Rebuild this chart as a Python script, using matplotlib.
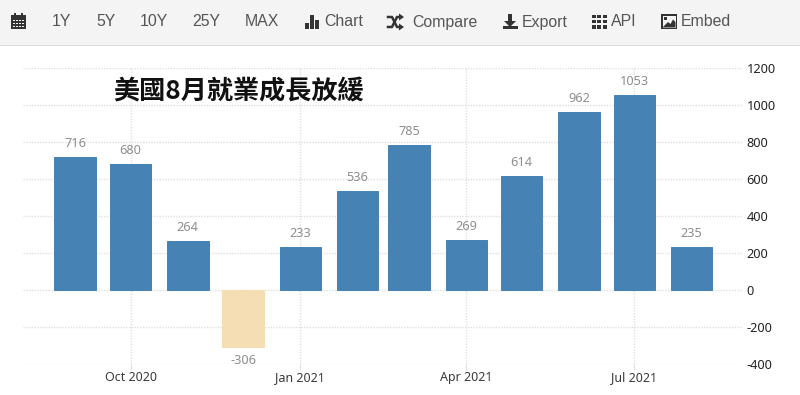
import datetime as dt
import matplotlib
matplotlib.use("Agg")
import matplotlib.pyplot as plt
import matplotlib.dates as mdates
from matplotlib.patches import Rectangle, Polygon

months = ["2020-09-01", "2020-10-01", "2020-11-01", "2020-12-01", "2021-01-01", "2021-02-01",
          "2021-03-01", "2021-04-01", "2021-05-01", "2021-06-01", "2021-07-01", "2021-08-01"]
values = [716, 680, 264, -306, 233, 536, 785, 269, 614, 962, 1053, 235]
x_ticks = ["2020-10-01", "2021-01-01", "2021-04-01", "2021-07-01"]
x_labels = ["Oct 2020", "Jan 2021", "Apr 2021", "Jul 2021"]
y_ticks = [-400, -200, 0, 200, 400, 600, 800, 1000, 1200]
title = "美國8月就業成長放緩"
toolbar = [("1Y", 52), ("5Y", 96), ("10Y", 140), ("25Y", 192), ("MAX", 245), ("Chart", 324),
           ("Compare", 412), ("Export", 522), ("API", 611), ("Embed", 681)]

BLUE, SAND = "#4682b4", "#f5deb3"
UI = ["Liberation Sans", "DejaVu Sans"]
AXF = ["Noto Sans", "DejaVu Sans"]
W, H = 800, 395

fig = plt.figure(figsize=(8, 3.95), dpi=100, facecolor="white")

# chart axes
ax = fig.add_axes([23 / W, (H - 364.3) / H, 720 / W, (364.3 - 67.7) / H])
dates = [mdates.date2num(dt.date.fromisoformat(m)) for m in months]
oct1 = mdates.date2num(dt.date(2020, 10, 1))
ax.set_xlim(oct1 - 107.6 / 1.845, oct1 + 612.4 / 1.845)
ax.set_ylim(-400, 1200)
ax.set_axisbelow(True)
ax.grid(True, color="#e0e0e0", lw=1.0, ls=(0, (1, 1)))
colors = [BLUE if v >= 0 else SAND for v in values]
ax.bar(dates, values, width=22.5, color=colors, edgecolor=colors, linewidth=0.7)
for d, v in zip(dates, values):
    off = 5 if v >= 0 else -5
    ax.annotate(str(v), (d, v), xytext=(0, off), textcoords="offset points",
                ha="center", va="bottom" if v >= 0 else "top",
                fontsize=9.2, color="#8e8e8e", family=AXF)
for s in ax.spines.values():
    s.set_visible(False)
ax.set_xticks([mdates.date2num(dt.date.fromisoformat(t)) for t in x_ticks])
ax.set_xticklabels(x_labels, fontsize=9, color="#3a3a3a", family=AXF, fontweight="medium", va="baseline")
ax.set_yticks(y_ticks)
ax.set_yticklabels([str(v) for v in y_ticks], fontsize=9.2, color="#222222", family=AXF, fontweight="medium")
ax.yaxis.tick_right()
ax.tick_params(axis="x", length=4, width=0.8, color="#dedede", pad=8)
ax.tick_params(axis="y", length=0, pad=2.5)

# overlay in pixel coordinates: toolbar and title
ov = fig.add_axes([0, 0, 1, 1], facecolor="none")
ov.set_xlim(0, W)
ov.set_ylim(H, 0)
ov.axis("off")
ov.add_patch(Rectangle((0, 0), W, 45, fc="#f4f4f4", ec="none"))
ov.add_patch(Rectangle((0, 45), W, 1, fc="#dcdcdc", ec="none"))
for t, x in toolbar:
    ov.text(x, 22, t, fontsize=11.4, color="#555555", family=UI, ha="left", va="center")
ov.text(113, 92, title, fontsize=18.8, color="#111111", ha="left", va="center",
        family=["Noto Sans CJK TC", "DejaVu Sans"], fontweight="bold")

IC = "#333333"
def rect(x, y, w, h, c=IC):
    ov.add_patch(Rectangle((x, y), w, h, fc=c, ec="none"))

# calendar
rect(11, 15, 15, 14)
rect(14, 13, 2, 3); rect(21, 13, 2, 3)
for i in range(4):
    for j in range(3):
        rect(12.5 + i * 3.2, 19.5 + j * 3, 2, 1.8, "#f4f4f4")
# chart
rect(305, 23, 3.5, 6); rect(310, 15, 3.5, 14); rect(315, 20, 3.5, 9)
# shuffle
ov.plot([388, 392, 397, 400], [17, 17, 27, 27], color=IC, lw=1.8)
ov.plot([388, 392, 397, 400], [27, 27, 17, 17], color=IC, lw=1.8)
ov.add_patch(Polygon([[399, 13.5], [404, 17], [399, 20.5]], fc=IC, ec="none"))
ov.add_patch(Polygon([[399, 23.5], [404, 27], [399, 30.5]], fc=IC, ec="none"))
# export
rect(508, 14, 4, 8)
ov.add_patch(Polygon([[504, 21], [516, 21], [510, 27]], fc=IC, ec="none"))
rect(503, 26, 15, 3)
# api
for i in range(3):
    for j in range(3):
        rect(591.5 + i * 5.6, 14.5 + j * 5.2, 4, 3.8)
# embed
rect(661, 14, 16, 15)
rect(662.5, 15.5, 13, 12, "#f4f4f4")
rect(664, 17, 3, 3)
ov.add_patch(Polygon([[662.5, 27.5], [668, 22], [670.5, 24], [673, 19.5], [675.5, 22], [675.5, 27.5]], fc=IC, ec="none"))

fig.savefig("out.png", dpi=100)
